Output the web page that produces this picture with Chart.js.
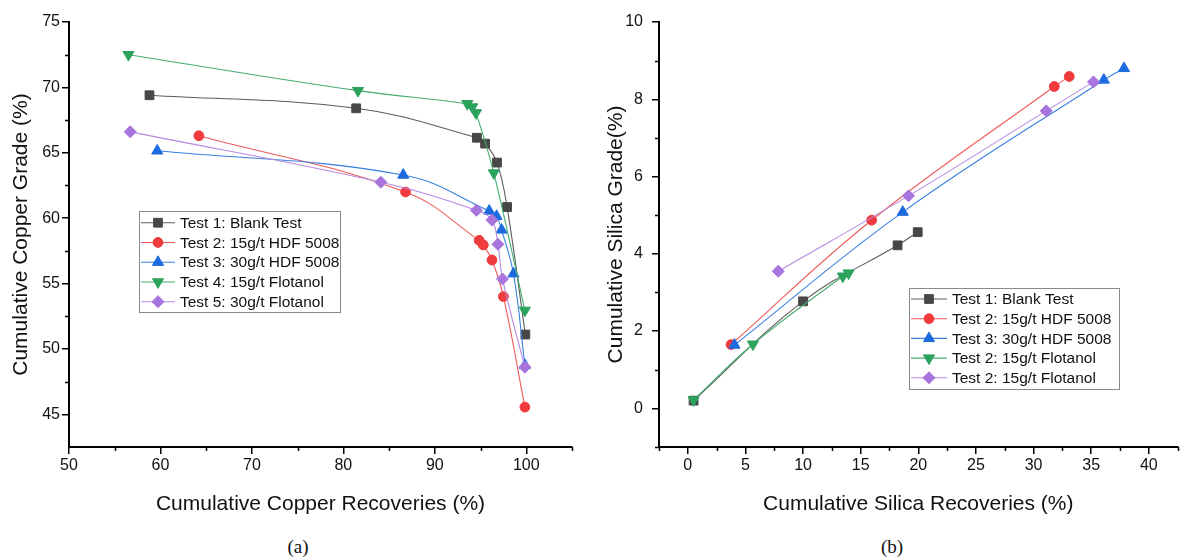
<!DOCTYPE html>
<html>
<head>
<meta charset="utf-8">
<title>Copper and silica grade vs recovery</title>
<script src="https://cdn.jsdelivr.net/npm/chart.js@4.4.1/dist/chart.umd.min.js"></script>
<style>
    body { margin: 0; background: #fff; width: 1185px; height: 560px; position: relative; overflow: hidden; }
    .panel { position: absolute; top: 0; }
    #panelA { left: 0; }
    #panelB { left: 595px; }
    .caption { position: absolute; top: 536px; width: 60px; text-align: center;
               font-family: "Liberation Serif", "DejaVu Serif", serif; font-size: 19px; line-height: 22px; color: #111; }
</style>
</head>
<body>
<div class="panel" id="panelA"><canvas id="copperChart" width="590" height="525"></canvas></div>
<div class="panel" id="panelB"><canvas id="silicaChart" width="590" height="525"></canvas></div>
<div class="caption" style="left:268px">(a)</div>
<div class="caption" style="left:862px">(b)</div>

<script>
// ---- (a) copper: recovery (%) vs grade (%) ----
const copperLabels = ['Test 1: Blank Test', 'Test 2: 15g/t HDF 5008', 'Test 3: 30g/t HDF 5008',
                      'Test 4: 15g/t Flotanol', 'Test 5: 30g/t Flotanol'];
const cuRec1 = [58.8, 81.4, 94.6, 95.5, 96.8, 97.9, 99.9];
const cuGrade1 = [69.4, 68.4, 66.15, 65.7, 64.25, 60.85, 51.1];
const cuRec2 = [64.2, 86.8, 94.85, 95.3, 96.25, 97.5, 99.85];
const cuGrade2 = [66.3, 62.0, 58.3, 57.95, 56.8, 54.0, 45.55];
const cuRec3 = [59.65, 86.55, 95.95, 96.75, 97.3, 98.6, 99.85];
const cuGrade3 = [65.15, 63.3, 60.55, 60.15, 59.1, 55.75, 48.75];
const cuRec4 = [56.5, 81.6, 93.55, 94.1, 94.5, 96.45, 99.85];
const cuGrade4 = [72.5, 69.75, 68.75, 68.5, 68.05, 63.45, 52.95];
const cuRec5 = [56.7, 84.1, 94.55, 96.25, 96.9, 97.4, 99.85];
const cuGrade5 = [66.6, 62.75, 60.6, 59.85, 58.0, 55.35, 48.6];
const copperXTicks = [50, 60, 70, 80, 90, 100];
const copperXMinor = [55, 65, 75, 85, 95, 105];
const copperYTicks = [45, 50, 55, 60, 65, 70, 75];
const copperYMinor = [47.5, 52.5, 57.5, 62.5, 67.5, 72.5];

// ---- (b) silica: recovery (%) vs grade (%) ----
const silicaLabels = ['Test 1: Blank Test', 'Test 2: 15g/t HDF 5008', 'Test 3: 30g/t HDF 5008',
                      'Test 2: 15g/t Flotanol', 'Test 2: 15g/t Flotanol'];
const siRec1 = [0.5, 10.0, 18.2, 19.95];
const siGrade1 = [0.2, 2.77, 4.22, 4.56];
const siRec2 = [3.75, 15.95, 31.8, 33.1];
const siGrade2 = [1.65, 4.87, 8.33, 8.59];
const siRec3 = [4.05, 18.65, 36.1, 37.85];
const siGrade3 = [1.64, 5.08, 8.5, 8.8];
const siRec4 = [0.5, 5.65, 13.45, 13.95];
const siGrade4 = [0.22, 1.66, 3.42, 3.5];
const siRec5 = [7.85, 19.15, 31.1, 35.2];
const siGrade5 = [3.55, 5.5, 7.7, 8.45];
const silicaXTicks = [0, 5, 10, 15, 20, 25, 30, 35, 40];
const silicaXMinor = [-2.5, 2.5, 7.5, 12.5, 17.5, 22.5, 27.5, 32.5, 37.5, 42.5];
const silicaYTicks = [0, 2, 4, 6, 8, 10];
const silicaYMinor = [-1, 1, 3, 5, 7, 9];

// marker look per test
const seriesStyle = [
    { color: '#474747', line: '#5c5c5c', pointStyle: 'rect', radius: 6.2, rotation: 0 },
    { color: '#f03a3c', line: '#f05a5a', pointStyle: 'circle', radius: 4.9, rotation: 0 },
    { color: '#1c6bde', line: '#3a80e0', pointStyle: 'triangle', radius: 6.4, rotation: 0 },
    { color: '#2ca35c', line: '#45ad70', pointStyle: 'triangle', radius: 6.4, rotation: 180 },
    { color: '#a874de', line: '#b68ae2', pointStyle: 'rectRot', radius: 6, rotation: 0 }
];

const sansFont = '"Liberation Sans", Arial, Helvetica, sans-serif';

function toPoints(xs, ys) {
    return xs.map((x, i) => ({ x: x, y: ys[i] }));
}

function buildDatasets(labels, series) {
    return series.map((s, i) => {
        const st = seriesStyle[i];
        return {
            label: labels[i],
            data: toPoints(s[0], s[1]),
            order: series.length - i,   // later tests drawn on top
            showLine: true,
            tension: 0.4,
            borderColor: st.line,
            borderWidth: 1.1,
            pointStyle: st.pointStyle,
            pointRadius: st.radius,
            pointRotation: st.rotation,
            pointBackgroundColor: st.color,
            pointBorderColor: st.color,
            pointBorderWidth: 1
        };
    });
}

// short minor ticks on both axes
const minorTicks = {
    id: 'minorTicks',
    afterDraw(chart, args, opts) {
        const ctx = chart.ctx;
        const xs = chart.scales.x;
        const ys = chart.scales.y;
        ctx.save();
        ctx.strokeStyle = '#000';
        ctx.lineWidth = 1.5;
        ctx.beginPath();
        opts.x.forEach(v => {
            const px = Math.round(xs.getPixelForValue(v)) + 0.5;
            ctx.moveTo(px, xs.top);
            ctx.lineTo(px, xs.top + 4);
        });
        opts.y.forEach(v => {
            const py = Math.round(ys.getPixelForValue(v)) + 0.5;
            ctx.moveTo(ys.right, py);
            ctx.lineTo(ys.right - 4, py);
        });
        ctx.stroke();
        ctx.restore();
    }
};

// boxed legend inside the plot
const legendBox = {
    id: 'legendBox',
    afterDatasetsDraw(chart, args, opts) {
        const ctx = chart.ctx;
        ctx.save();
        ctx.fillStyle = '#fff';
        ctx.fillRect(opts.left, opts.top, opts.width, opts.height);
        ctx.strokeStyle = '#8a8a8a';
        ctx.lineWidth = 1;
        ctx.strokeRect(opts.left + 0.5, opts.top + 0.5, opts.width, opts.height);
        ctx.font = '15.5px ' + sansFont;
        ctx.textBaseline = 'middle';
        ctx.textAlign = 'left';
        chart.data.datasets.forEach((ds, i) => {
            const y = opts.top + opts.firstRow + i * opts.rowHeight;
            ctx.strokeStyle = ds.borderColor;
            ctx.lineWidth = 1.1;
            ctx.beginPath();
            ctx.moveTo(opts.left + 2, y);
            ctx.lineTo(opts.left + opts.lineEnd, y);
            ctx.stroke();
            ctx.fillStyle = ds.pointBackgroundColor;
            ctx.strokeStyle = ds.pointBorderColor;
            ctx.lineWidth = 1;
            Chart.helpers.drawPoint(ctx, {
                pointStyle: ds.pointStyle,
                radius: ds.pointRadius,
                rotation: ds.pointRotation,
                borderWidth: 1
            }, opts.left + opts.markerX, y);
            ctx.fillStyle = '#111';
            ctx.fillText(ds.label, opts.left + opts.textX, y + 1);
        });
        ctx.restore();
    }
};

function axisOptions(cfg) {
    const tickFont = { family: sansFont, size: 16 };
    const titleFont = { family: sansFont, size: 21 };
    return {
        x: {
            type: 'linear',
            min: cfg.xMin,
            max: cfg.xMax,
            afterBuildTicks: scale => { scale.ticks = cfg.xTicks.map(v => ({ value: v })); },
            afterFit: scale => { scale.height = 78; },
            grid: { drawOnChartArea: false, drawTicks: true, tickLength: 7, color: '#000', lineWidth: 1.5 },
            border: { display: true, color: '#000', width: 2 },
            ticks: { font: tickFont, color: '#111', padding: 2, maxRotation: 0 },
            title: { display: true, text: cfg.xTitle, font: titleFont, color: '#111', padding: { top: 0, bottom: 8 } }
        },
        y: {
            type: 'linear',
            min: cfg.yMin,
            max: cfg.yMax,
            afterBuildTicks: scale => { scale.ticks = cfg.yTicks.map(v => ({ value: v })); },
            afterFit: scale => { scale.width = cfg.yWidth; },
            grid: { drawOnChartArea: false, drawTicks: true, tickLength: 7, color: '#000', lineWidth: 1.5 },
            border: { display: true, color: '#000', width: 2 },
            ticks: { font: tickFont, color: '#111', padding: cfg.yPad },
            title: { display: true, text: cfg.yTitle, font: titleFont, color: '#111', padding: { top: 9, bottom: 0 } }
        }
    };
}

function makeChart(canvasId, labels, series, cfg, legend) {
    const ctx = document.getElementById(canvasId).getContext('2d');
    return new Chart(ctx, {
        type: 'scatter',
        data: { datasets: buildDatasets(labels, series) },
        options: {
            responsive: false,
            animation: false,
            devicePixelRatio: 1,
            layout: { padding: { top: 22, right: cfg.padRight, left: 0, bottom: 0 } },
            scales: axisOptions(cfg),
            plugins: {
                legend: { display: false },
                tooltip: { enabled: false },
                minorTicks: { x: cfg.xMinor, y: cfg.yMinor },
                legendBox: legend
            }
        },
        plugins: [minorTicks, legendBox]
    });
}

document.addEventListener('DOMContentLoaded', function() {
    makeChart('copperChart', copperLabels,
        [[cuRec1, cuGrade1], [cuRec2, cuGrade2], [cuRec3, cuGrade3], [cuRec4, cuGrade4], [cuRec5, cuGrade5]],
        {
            xMin: 50, xMax: 105, yMin: 42.5, yMax: 75,
            xTicks: copperXTicks, yTicks: copperYTicks,
            xMinor: copperXMinor, yMinor: copperYMinor,
            xTitle: 'Cumulative Copper Recoveries (%)', yTitle: 'Cumulative Copper Grade (%)',
            yWidth: 69, yPad: 2, padRight: 18
        },
        { left: 139, top: 211, width: 201, height: 101, firstRow: 11.7, rowHeight: 19.75, lineEnd: 36, markerX: 19, textX: 41 });

    makeChart('silicaChart', silicaLabels,
        [[siRec1, siGrade1], [siRec2, siGrade2], [siRec3, siGrade3], [siRec4, siGrade4], [siRec5, siGrade5]],
        {
            xMin: -2.5, xMax: 42.5, yMin: -1, yMax: 10,
            xTicks: silicaXTicks, yTicks: silicaYTicks,
            xMinor: silicaXMinor, yMinor: silicaYMinor,
            xTitle: 'Cumulative Silica Recoveries (%)', yTitle: 'Cumulative Silica Grade(%)',
            yWidth: 64, yPad: 9, padRight: 2
        },
        { left: 314, top: 288, width: 210, height: 101, firstRow: 11, rowHeight: 19.7, lineEnd: 38, markerX: 20, textX: 43 });
});
</script>
</body>
</html>
